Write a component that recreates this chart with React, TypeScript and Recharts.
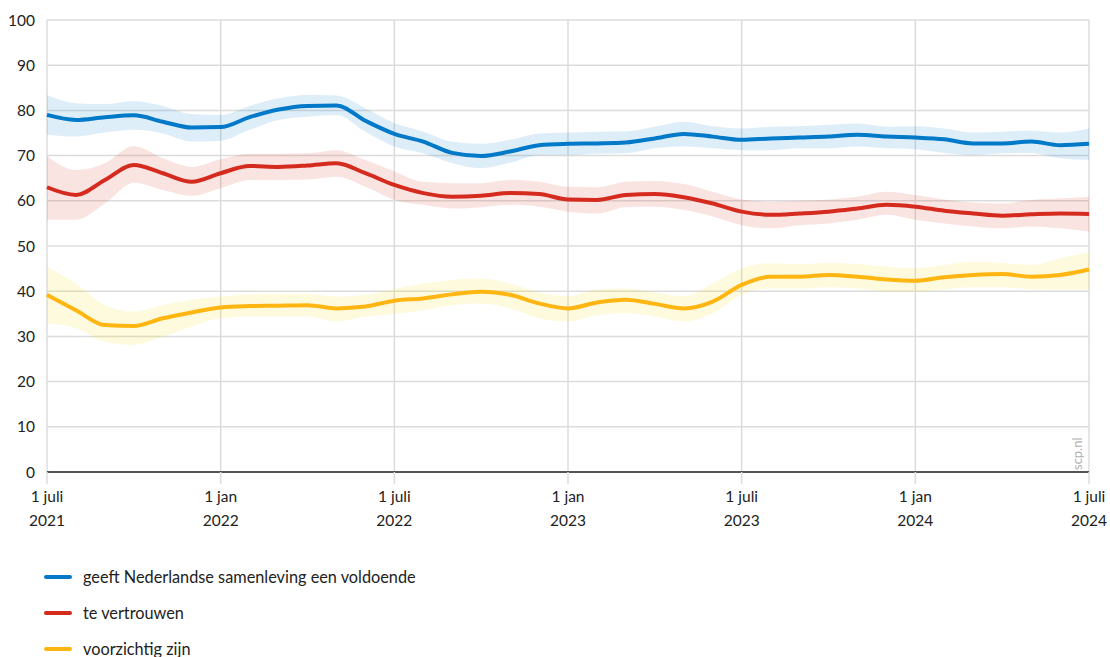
import React from "react";
import {
  Area,
  CartesianGrid,
  ComposedChart,
  Line,
  XAxis,
  YAxis,
} from "recharts";

const BLUE = "#0079c8";
const RED = "#d52b1e";
const YELLOW = "#ffb612";
const GRID = "#dcdcdc";
const FONT = "Lato, 'Open Sans', sans-serif";

// months since 1 juli 2021
const MONTHS = [
  0, 1, 2, 3, 4, 5, 6, 7, 8, 9, 10, 11, 12, 13, 14, 15, 16, 17, 18, 19, 20, 21,
  22, 23, 24, 25, 26, 27, 28, 29, 30, 31, 32, 33, 34, 35, 36,
];

const X_TICKS = [0, 6, 12, 18, 24, 30, 36];
const X_TICK_LABELS = [
  ["1 juli", "2021"],
  ["1 jan", "2022"],
  ["1 juli", "2022"],
  ["1 jan", "2023"],
  ["1 juli", "2023"],
  ["1 jan", "2024"],
  ["1 juli", "2024"],
];
const Y_TICKS = [0, 10, 20, 30, 40, 50, 60, 70, 80, 90, 100];

const LABEL_VOLDOENDE = "geeft Nederlandse samenleving een voldoende";
const LABEL_VERTROUWEN = "te vertrouwen";
const LABEL_VOORZICHTIG = "voorzichtig zijn";

// geeft Nederlandse samenleving een voldoende
const VOLDOENDE = [
  79.0, 77.9, 78.5, 78.9, 77.5, 76.2, 76.3, 78.5, 80.2, 81.0, 81.1, 77.7, 74.8,
  73.1, 70.6, 69.9, 70.9, 72.3, 72.6, 72.7, 72.9, 73.8, 74.8, 74.2, 73.5, 73.8,
  74.0, 74.2, 74.6, 74.2, 74.0, 73.6, 72.7, 72.7, 73.1, 72.3, 72.6,
];
const VOLDOENDE_LOW = [
  74.6, 74.2, 75.1, 75.7, 74.9, 73.1, 73.3, 75.7, 77.9, 78.6, 79.0, 75.3, 72.0,
  70.5, 68.3, 67.2, 68.4, 70.1, 70.1, 70.4, 70.5, 71.6, 72.0, 71.6, 71.2, 71.2,
  71.6, 71.6, 72.0, 71.6, 71.4, 70.6, 70.1, 70.5, 70.6, 69.4, 69.0,
];
const VOLDOENDE_HIGH = [
  83.4, 81.6, 81.4, 82.1, 81.0, 79.2, 79.0, 81.0, 82.7, 83.4, 83.3, 80.5, 77.2,
  75.3, 73.1, 72.6, 73.5, 74.9, 75.1, 75.3, 75.4, 76.4, 77.5, 76.5, 76.0, 76.4,
  76.5, 76.8, 77.1, 76.4, 76.5, 76.0, 75.1, 75.3, 75.5, 75.1, 76.0,
];

// te vertrouwen
const VERTROUWEN = [
  63.0, 61.3, 64.6, 67.9, 66.1, 64.2, 66.1, 67.7, 67.5, 67.8, 68.3, 66.1, 63.5,
  61.7, 60.9, 61.1, 61.7, 61.5, 60.3, 60.2, 61.3, 61.5, 60.8, 59.4, 57.6, 56.9,
  57.2, 57.6, 58.3, 59.1, 58.7, 57.8, 57.2, 56.7, 57.0, 57.2, 57.1,
];
const VERTROUWEN_LOW = [
  55.8, 55.8, 59.4, 64.0, 62.4, 61.1, 62.8, 64.6, 64.6, 64.7, 65.3, 63.1, 60.2,
  59.1, 58.3, 58.6, 59.1, 58.7, 57.6, 57.2, 58.6, 58.7, 58.0, 56.5, 54.6, 53.9,
  54.6, 55.0, 55.8, 56.9, 55.8, 55.0, 54.3, 53.9, 54.3, 53.9, 53.2,
];
const VERTROUWEN_HIGH = [
  69.9, 66.8, 68.3, 72.1, 69.4, 67.5, 69.2, 70.4, 70.4, 70.5, 71.2, 69.0, 66.5,
  64.2, 63.9, 63.9, 64.6, 64.2, 63.1, 63.0, 64.2, 64.4, 63.7, 62.0, 60.3, 59.8,
  60.0, 60.3, 60.9, 62.0, 61.3, 60.3, 59.6, 59.4, 60.2, 60.5, 60.9,
];

// voorzichtig zijn
const VOORZICHTIG = [
  39.2, 35.8, 32.5, 32.3, 34.0, 35.3, 36.4, 36.7, 36.8, 36.9, 36.2, 36.6, 37.9,
  38.4, 39.3, 39.9, 39.2, 37.3, 36.2, 37.5, 38.1, 37.2, 36.2, 37.7, 41.4, 43.2,
  43.2, 43.6, 43.2, 42.6, 42.3, 43.1, 43.6, 43.8, 43.2, 43.6, 44.8,
];
const VOORZICHTIG_LOW = [
  32.9, 31.8, 28.8, 28.1, 29.9, 32.2, 34.0, 34.4, 34.4, 34.4, 33.3, 34.4, 35.0,
  35.8, 36.9, 37.3, 36.2, 34.0, 33.3, 34.7, 35.1, 34.4, 33.3, 35.1, 39.2, 40.6,
  40.6, 40.9, 40.6, 39.9, 39.9, 40.4, 40.9, 40.9, 40.4, 40.3, 40.3,
];
const VOORZICHTIG_HIGH = [
  45.4, 41.7, 36.9, 35.5, 36.9, 38.1, 38.8, 39.3, 39.4, 39.4, 38.8, 39.2, 40.5,
  41.7, 42.5, 42.8, 41.7, 39.7, 38.9, 40.4, 40.6, 39.7, 38.9, 41.7, 45.1, 46.2,
  46.0, 46.3, 46.0, 45.4, 45.1, 45.8, 46.5, 46.3, 45.8, 47.3, 48.7,
];

const data = MONTHS.map((t, i) => ({
  t,
  voldoende: VOLDOENDE[i],
  voldoendeBand: [VOLDOENDE_LOW[i], VOLDOENDE_HIGH[i]],
  vertrouwen: VERTROUWEN[i],
  vertrouwenBand: [VERTROUWEN_LOW[i], VERTROUWEN_HIGH[i]],
  voorzichtig: VOORZICHTIG[i],
  voorzichtigBand: [VOORZICHTIG_LOW[i], VOORZICHTIG_HIGH[i]],
}));

function XTick({ x, y, payload }: any) {
  const idx = X_TICKS.indexOf(payload?.value);
  const lines = X_TICK_LABELS[idx] ?? ["", ""];
  return (
    <g>
      <text
        x={x}
        y={y + 16}
        textAnchor="middle"
        style={{ fontSize: 15.5, fill: "#222", fontFamily: FONT }}
      >
        {lines[0]}
      </text>
      <text
        x={x}
        y={y + 40}
        textAnchor="middle"
        style={{ fontSize: 15.5, fill: "#222", fontFamily: FONT }}
      >
        {lines[1]}
      </text>
    </g>
  );
}

const LEGEND = [
  { label: LABEL_VOLDOENDE, color: BLUE },
  { label: LABEL_VERTROUWEN, color: RED },
  { label: LABEL_VOORZICHTIG, color: YELLOW },
];

export default function App() {
  return (
    <div
      style={{
        position: "absolute",
        left: 0,
        top: 0,
        width: 1110,
        height: 657,
        background: "#fff",
        fontFamily: FONT,
      }}
    >
      <ComposedChart
        width={1110}
        height={540}
        data={data}
        margin={{ top: 20, right: 21, left: 0, bottom: 0 }}
      >
        <CartesianGrid stroke={GRID} strokeWidth={1.5} />
        <XAxis
          dataKey="t"
          type="number"
          domain={[0, 36]}
          ticks={X_TICKS}
          interval={0}
          height={68}
          tickSize={12}
          tickLine={{ stroke: GRID, strokeWidth: 1.5 }}
          axisLine={{ stroke: "#222", strokeWidth: 1.5 }}
          tick={<XTick />}
        />
        <YAxis
          type="number"
          domain={[0, 100]}
          ticks={Y_TICKS}
          interval={0}
          width={47}
          axisLine={false}
          tickLine={false}
          tickSize={6}
          tickMargin={6}
          tick={{ fontSize: 15.5, fill: "#222", fontFamily: FONT }}
        />
        <Area
          dataKey="voldoendeBand"
          type="monotone"
          stroke="none"
          fill={BLUE}
          fillOpacity={0.13}
          isAnimationActive={false}
          activeDot={false}
        />
        <Area
          dataKey="vertrouwenBand"
          type="monotone"
          stroke="none"
          fill={RED}
          fillOpacity={0.13}
          isAnimationActive={false}
          activeDot={false}
        />
        <Area
          dataKey="voorzichtigBand"
          type="monotone"
          stroke="none"
          fill="#f5d800"
          fillOpacity={0.13}
          isAnimationActive={false}
          activeDot={false}
        />
        <Line
          dataKey="voldoende"
          type="monotone"
          stroke={BLUE}
          strokeWidth={4}
          dot={false}
          isAnimationActive={false}
        />
        <Line
          dataKey="vertrouwen"
          type="monotone"
          stroke={RED}
          strokeWidth={4}
          dot={false}
          isAnimationActive={false}
        />
        <Line
          dataKey="voorzichtig"
          type="monotone"
          stroke={YELLOW}
          strokeWidth={4}
          dot={false}
          isAnimationActive={false}
        />
      </ComposedChart>

      {/* source watermark */}
      <div
        style={{
          position: "absolute",
          left: 1070,
          top: 450,
          fontSize: 13,
          color: "#b0b0b0",
          transform: "rotate(-90deg)",
          transformOrigin: "0 0",
          whiteSpace: "nowrap",
          lineHeight: "14px",
        }}
      >
        <span style={{ display: "inline-block", transform: "translate(-20px, 0)" }}>
          scp.nl
        </span>
      </div>

      {/* legend */}
      <div style={{ position: "absolute", left: 44, top: 559 }}>
        {LEGEND.map((item) => (
          <div
            key={item.label}
            style={{
              display: "flex",
              alignItems: "center",
              height: 36,
            }}
          >
            <span
              style={{
                display: "inline-block",
                width: 28,
                height: 4,
                borderRadius: 2,
                background: item.color,
                marginRight: 11,
              }}
            />
            <span style={{ fontSize: 16.3, color: "#222", lineHeight: "20px" }}>
              {item.label}
            </span>
          </div>
        ))}
      </div>
    </div>
  );
}
